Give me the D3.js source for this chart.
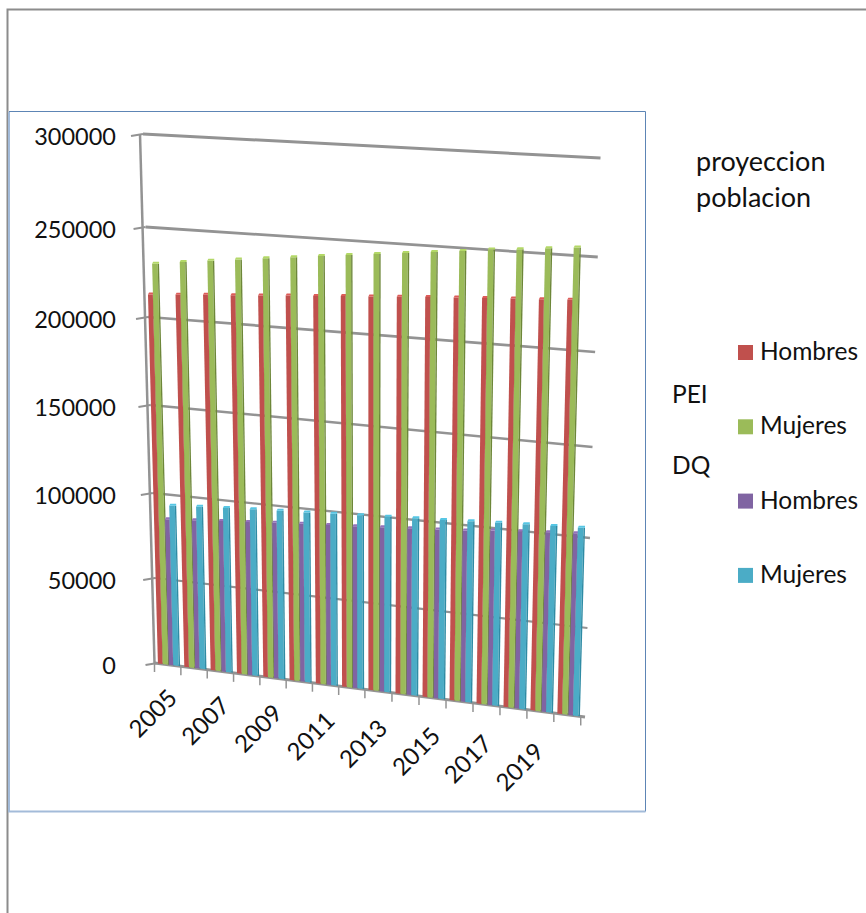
<!doctype html>
<html>
  <head>
    <meta charset="utf-8">
    <title>proyeccion poblacion</title>
    <script src="https://cdnjs.cloudflare.com/ajax/libs/d3/7.8.5/d3.min.js"></script>
    <style>
      html, body { margin: 0; padding: 0; background: #fff; }
      svg { display: block; }
      text { font-family: Lato, "Open Sans", sans-serif; fill: #111; }
    </style>
  </head>
  <body>
    <div id="chart"></div>
    <script>
      // data
      const years = d3.range(2005, 2021).map(String)
      const tickYears = years.filter((d, i) => i % 2 == 0)
      const valueTicks = [0, 50000, 100000, 150000, 200000, 250000, 300000]

      const peiHombres = [212500, 212400, 212300, 212100, 212000, 211900, 211700, 211600,
                          211400, 211200, 211100, 210800, 210500, 210300, 209900, 209600]
      const peiMujeres = [229600, 230500, 231300, 232000, 232600, 233200, 233900, 234400,
                          235000, 235500, 236100, 236700, 237500, 237600, 238200, 238600]
      const dqHombres = [84500, 83900, 83500, 82900, 82500, 81900, 81200, 80400,
                         79800, 79200, 78600, 78000, 77900, 77500, 76900, 76300]
      const dqMujeres = [92500, 91900, 91200, 90400, 89600, 88600, 87800, 86900,
                         86100, 85100, 84100, 83400, 82500, 81600, 80600, 79600]

      const seriesValues = [peiHombres, peiMujeres, dqHombres, dqMujeres]
      const seriesNames = ['Hombres', 'Mujeres', 'Hombres', 'Mujeres']
      const seriesColors = ['#c0504d', '#9bbb59', '#8064a2', '#4bacc6']
      const sideColors = ['#a03f3d', '#6d8739', '#6a5288', '#2f8ba4']

      const svg = d3.select('#chart').append('svg')
        .attr('width', 866)
        .attr('height', 913)

      // page and chart frames
      svg.append('path').attr('d', 'M7.5,913V9.5H866')
        .attr('fill', 'none').attr('stroke', '#8c8c8c').attr('stroke-width', 2)
      svg.append('path').attr('d', 'M9,111.5H645.5V811.5')
        .attr('fill', 'none').attr('stroke', '#5d85b5').attr('stroke-width', 1)
      svg.append('path').attr('d', 'M645.5,811.5H9V112')
        .attr('fill', 'none').attr('stroke', '#a3bbd9').attr('stroke-width', 2)

      // the 3d box: value scale on the left wall and on the right end of the gridlines
      const yLeft = d3.scaleLinear().domain(valueTicks).range([663, 578, 493, 405, 317, 227, 134])
      const yRight = d3.scaleLinear().domain(valueTicks).range([717, 628, 538, 447, 352, 257, 158])
      const xLeft = d3.scaleLinear().domain([134, 663]).range([140, 154.5])
      const xRight = d3.scaleLinear().domain([158, 717]).range([600.5, 585])
      // year slots are a little wider towards the right
      const slot = d3.scaleLinear().domain([0, 8, 16]).range([0, 0.487, 0.99])
      const gridWidth = d3.scaleLinear().domain([0, 300000]).range([2, 3])

      const xAt = (u, y) => xLeft(y) + (xRight(y) - xLeft(y)) * u
      const floorY = u => yLeft(0) + (yRight(0) - yLeft(0)) * u

      const grid = svg.append('g').attr('fill', 'none').attr('stroke', '#939393')

      // gridlines
      grid.selectAll('.gridline')
        .data(valueTicks.slice(1))
        .join('line')
        .attr('class', 'gridline')
        .attr('x1', d => xLeft(yLeft(d)) + 3)
        .attr('y1', d => yLeft(d))
        .attr('x2', d => xRight(yRight(d)))
        .attr('y2', d => yRight(d))
        .attr('stroke-width', d => gridWidth(d))

      // left axis line and its small ticks
      grid.append('line')
        .attr('x1', xLeft(yLeft(300000)))
        .attr('y1', yLeft(300000))
        .attr('x2', xLeft(yLeft(0)))
        .attr('y2', yLeft(0))
        .attr('stroke-width', 2.5)
      grid.selectAll('.vtick')
        .data(valueTicks)
        .join('line')
        .attr('class', 'vtick')
        .attr('x1', d => xLeft(yLeft(d)) - 9)
        .attr('y1', d => yLeft(d) + 2)
        .attr('x2', d => xLeft(yLeft(d)) + 3)
        .attr('y2', d => yLeft(d))
        .attr('stroke-width', 2)

      // floor and year ticks
      grid.append('line')
        .attr('x1', xAt(0, yLeft(0)))
        .attr('y1', yLeft(0))
        .attr('x2', xRight(yRight(0)))
        .attr('y2', yRight(0))
        .attr('stroke-width', 3)
      grid.selectAll('.xtick')
        .data(d3.range(years.length + 1))
        .join('line')
        .attr('class', 'xtick')
        .attr('x1', i => xAt(slot(i), floorY(slot(i))))
        .attr('y1', i => floorY(slot(i)))
        .attr('x2', i => xAt(slot(i), floorY(slot(i))))
        .attr('y2', i => floorY(slot(i)) + 9)
        .attr('stroke-width', 1.5)

      // bars, group by group so the later years sit on top
      // where each bar starts and ends inside its year slot
      const barFrom = [0.13, 0.31, 0.54, 0.71]
      const barTo = [0.35, 0.56, 0.75, 0.97]
      const groups = svg.selectAll('.year')
        .data(years)
        .join('g')
        .attr('class', 'year')

      groups.each(function(year, i) {
        const g = d3.select(this)
        const uOf = f => slot(i) + (slot(i + 1) - slot(i)) * f

        seriesValues.forEach((values, s) => {
          const f0 = barFrom[s]
          const f1 = barTo[s]
          const fs = f1 - (f1 - f0) * 0.2
          const topY = yLeft(values[i])
          const base = f => [xAt(uOf(f), floorY(uOf(f))), floorY(uOf(f))]
          const top = f => [xAt(uOf(f), topY), topY]

          // front face
          g.append('polygon')
            .attr('points', [top(f0), top(fs), base(fs), base(f0)].join(' '))
            .attr('fill', seriesColors[s])
          // side face
          g.append('polygon')
            .attr('points', [top(fs), top(f1), base(f1), base(fs)].join(' '))
            .attr('fill', sideColors[s])
          // cap
          const [xa, ya] = top(f0), [xb, yb] = top(f1)
          g.append('polygon')
            .attr('points', [[xa, ya], [xa + 1, ya - 2], [xb, yb - 2], [xb, yb]].join(' '))
            .attr('fill', d3.color(seriesColors[s]).brighter(0.4))
        })
      })

      // value labels
      const yAxis = d3.axisLeft(yLeft).tickValues(valueTicks).tickFormat(d3.format('d')).tickSize(0)
      svg.append('g')
        .attr('transform', 'translate(116,3)')
        .call(yAxis)
        .call(g => g.select('.domain').remove())
        .call(g => g.selectAll('text')
          .attr('x', 0)
          .style('font-family', 'Lato, sans-serif')
          .style('font-size', '23.5px')
          .style('fill', '#111'))

      // year labels
      const labelDx = d3.scaleLinear().domain([0, 0.55, 1]).range([0, 0, -8])
      const labelDy = d3.scaleLinear().domain([0, 1]).range([52, 60])
      svg.selectAll('.yearlabel')
        .data(tickYears)
        .join('text')
        .attr('class', 'yearlabel')
        .attr('text-anchor', 'middle')
        .attr('dominant-baseline', 'middle')
        .attr('font-size', 24)
        .attr('transform', d => {
          const u = slot(years.indexOf(d))
          return `translate(${xAt(u, floorY(u)) + labelDx(u)},${floorY(u) + labelDy(u)}) rotate(-45)`
        })
        .text(d => d)

      // title and legend
      svg.selectAll('.title')
        .data(['proyeccion', 'poblacion'])
        .join('text')
        .attr('class', 'title')
        .attr('x', 696)
        .attr('y', (d, i) => 171 + i * 36)
        .attr('font-size', 27)
        .text(d => d)

      svg.selectAll('.group')
        .data(['PEI', 'DQ'])
        .join('text')
        .attr('class', 'group')
        .attr('x', 672)
        .attr('y', (d, i) => 403 + i * 71)
        .attr('font-size', 24.5)
        .text(d => d)

      const legend = svg.selectAll('.legend')
        .data(seriesNames)
        .join('g')
        .attr('class', 'legend')
        .attr('transform', (d, i) => `translate(738,${345 + i * 74.3})`)
      legend.append('rect')
        .attr('width', 15)
        .attr('height', 15)
        .attr('fill', (d, i) => seriesColors[i])
      legend.append('text')
        .attr('x', 22)
        .attr('y', 15)
        .attr('font-size', 24.5)
        .text(d => d)
    </script>
  </body>
</html>
